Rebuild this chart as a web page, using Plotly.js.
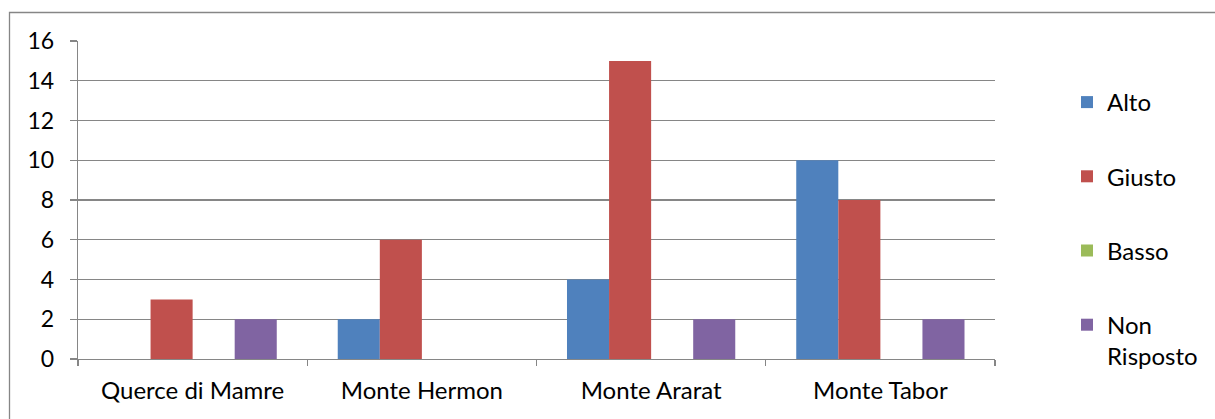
<!DOCTYPE html>
<html>
<head>
<meta charset="utf-8">
<script src="https://cdn.plot.ly/plotly-3.0.1.min.js"></script>
<style>html,body{margin:0;padding:0;background:#fff;}#chart{width:1215px;height:419px;}</style>
</head>
<body>
<div id="chart"></div>
<script>
const categories = ["Querce di Mamre", "Monte Hermon", "Monte Ararat", "Monte Tabor"];
const seriesNames = ["Alto", "Giusto", "Basso", "Non<br>Risposto"];
const alto = [0, 2, 4, 10];
const giusto = [3, 6, 15, 8];
const basso = [0, 0, 0, 0];
const nonRisposto = [2, 0, 2, 2];
const yTicks = [0, 2, 4, 6, 8, 10, 12, 14, 16];

const colors = ["#4F81BD", "#C0504D", "#9BBB59", "#8064A2"];
const values = [alto, giusto, basso, nonRisposto];
const FONT = "Lato, 'Open Sans', sans-serif";

const traces = values.map((v, i) => ({
  type: "bar",
  name: seriesNames[i],
  x: categories,
  y: v,
  marker: {color: colors[i], line: {width: 0}},
  legendgroup: "g" + i,
  hoverinfo: "x+y+name"
}));

const L = 78, R = 995, T = 41, B = 359;
const W = R - L, H = B - T;
const px = x => (x - L) / W;
const py = y => (B - y) / H;

const layout = {
  width: 1215, height: 419,
  margin: {l: L, r: 1215 - R, t: T, b: 419 - B},
  paper_bgcolor: "#fff", plot_bgcolor: "#fff",
  font: {family: FONT, size: 24, color: "#000"},
  barmode: "group",
  bargap: 0.266,
  bargroupgap: 0,
  showlegend: true,
  legend: {
    x: px(1067), xanchor: "left",
    y: py(80), yanchor: "top",
    tracegroupgap: 40,
    valign: "top",
    entrywidth: 100, entrywidthmode: "pixels",
    font: {family: FONT, size: 24, color: "#000"},
    bgcolor: "rgba(0,0,0,0)"
  },
  xaxis: {
    type: "category",
    tickson: "boundaries",
    ticks: "outside", ticklen: 6, tickcolor: "#868686", tickwidth: 1.3,
    showline: true, linecolor: "#868686", linewidth: 1.3,
    showgrid: false,
    ticklabelstandoff: 10,
    tickfont: {family: FONT, size: 24, color: "#000"},
    fixedrange: true
  },
  yaxis: {
    range: [0, 16],
    tickvals: yTicks,
    ticks: "outside", ticklen: 7, tickcolor: "#868686", tickwidth: 1.3,
    showline: true, linecolor: "#868686", linewidth: 1.3,
    showgrid: true, gridcolor: "#868686", gridwidth: 1.3,
    zeroline: false,
    ticklabelstandoff: 11,
    tickfont: {family: FONT, size: 23, color: "#000"},
    fixedrange: true
  },
  shapes: [{
    type: "rect", xref: "paper", yref: "paper",
    x0: px(9.5), x1: px(1230), y0: py(430), y1: py(12.5),
    line: {color: "#868686", width: 1.3}, fillcolor: "rgba(0,0,0,0)", layer: "below"
  }]
};

Plotly.newPlot("chart", traces, layout, {displayModeBar: false, staticPlot: true});
</script>
</body>
</html>
